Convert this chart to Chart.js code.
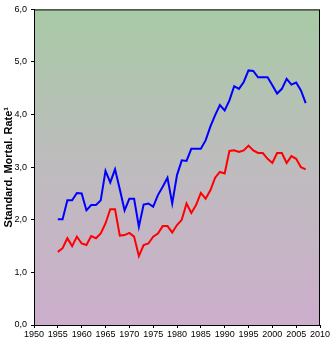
<!DOCTYPE html>
<html>
<head>
<meta charset="utf-8">
<script src="https://cdn.jsdelivr.net/npm/chart.js@4"></script>
<style>
  html, body { margin: 0; padding: 0; background: #fff; }
  #wrap { width: 332px; height: 343px; }
</style>
</head>
<body>
<div id="wrap"><canvas id="chart"></canvas></div>
<script>
// ===== DATA =====
const years = [];
for (let y = 1955; y <= 2007; y++) years.push(y);

const blueRate = [
  2.01, 2.01, 2.37, 2.37, 2.51, 2.50, 2.18, 2.28, 2.28, 2.37,
  2.93, 2.71, 2.96, 2.58, 2.18, 2.40, 2.40, 1.87, 2.29, 2.31,
  2.25, 2.47, 2.63, 2.80, 2.31, 2.85, 3.13, 3.12, 3.35, 3.35,
  3.35, 3.51, 3.77, 3.99, 4.18, 4.08, 4.27, 4.54, 4.49, 4.62,
  4.84, 4.83, 4.71, 4.71, 4.71, 4.56, 4.40, 4.49, 4.68, 4.57,
  4.61, 4.46, 4.22
];

const redRate = [
  1.39, 1.46, 1.65, 1.50, 1.68, 1.55, 1.52, 1.69, 1.65, 1.74,
  1.93, 2.20, 2.20, 1.70, 1.71, 1.75, 1.68, 1.31, 1.52, 1.55,
  1.68, 1.74, 1.88, 1.88, 1.76, 1.90, 2.00, 2.31, 2.13, 2.28,
  2.51, 2.40, 2.56, 2.80, 2.91, 2.88, 3.31, 3.32, 3.29, 3.32,
  3.41, 3.32, 3.27, 3.27, 3.16, 3.08, 3.27, 3.27, 3.08, 3.21,
  3.16, 3.00, 2.96
];

const yTitle = 'Standard. Mortal. Rate\u00b9';

function toPoints(vals) {
  return vals.map((v, i) => ({ x: years[i], y: v }));
}

// background gradient + frame round the plot area
const plotFrame = {
  id: 'plotFrame',
  beforeDraw(chart) {
    const { ctx, chartArea: a } = chart;
    const g = ctx.createLinearGradient(0, a.top, 0, a.bottom);
    g.addColorStop(0, 'rgb(168,202,166)');
    g.addColorStop(0.5, 'rgb(190,188,190)');
    g.addColorStop(1, 'rgb(204,174,204)');
    ctx.save();
    ctx.fillStyle = g;
    ctx.fillRect(a.left, a.top, a.right - a.left, a.bottom - a.top);
    ctx.restore();
  },
  afterDraw(chart) {
    const { ctx, chartArea: a } = chart;
    ctx.save();
    ctx.strokeStyle = '#000';
    ctx.lineWidth = 1;
    ctx.strokeRect(a.left + 0.5, a.top + 0.5, a.right - a.left - 1, a.bottom - a.top);
    ctx.restore();
  }
};

const tickFont = { family: 'Liberation Sans', size: 9 };

new Chart(document.getElementById('chart'), {
  type: 'line',
  data: {
    datasets: [
      { data: toPoints(blueRate), borderColor: '#0000ff', borderWidth: 2, pointRadius: 0, tension: 0 },
      { data: toPoints(redRate), borderColor: '#ff0000', borderWidth: 2, pointRadius: 0, tension: 0 }
    ]
  },
  options: {
    responsive: true,
    maintainAspectRatio: false,
    animation: false,
    layout: { padding: { left: 2, right: 12, top: 9, bottom: 0 } },
    plugins: { legend: { display: false }, tooltip: { enabled: false } },
    scales: {
      x: {
        type: 'linear',
        min: 1950,
        max: 2010,
        afterFit: s => { s.height = 18; },
        ticks: {
          stepSize: 5,
          autoSkip: false,
          maxRotation: 0,
          padding: 1,
          color: '#000',
          font: tickFont,
          callback: v => String(v)
        },
        grid: { drawOnChartArea: false, drawTicks: true, tickLength: 3, color: '#000' },
        border: { display: true, color: '#000', width: 1 }
      },
      y: {
        min: 0,
        max: 6,
        afterFit: s => { s.width = 32; },
        ticks: {
          stepSize: 1,
          padding: 4,
          color: '#000',
          font: tickFont,
          callback: v => v.toFixed(1).replace('.', ',')
        },
        title: {
          display: true,
          text: yTitle,
          color: '#000',
          padding: 0,
          font: { family: 'Liberation Sans', size: 11, weight: 'bold' }
        },
        grid: { drawOnChartArea: false, drawTicks: true, tickLength: 3, color: '#000' },
        border: { display: true, color: '#000', width: 1 }
      }
    }
  },
  plugins: [plotFrame]
});
</script>
</body>
</html>
